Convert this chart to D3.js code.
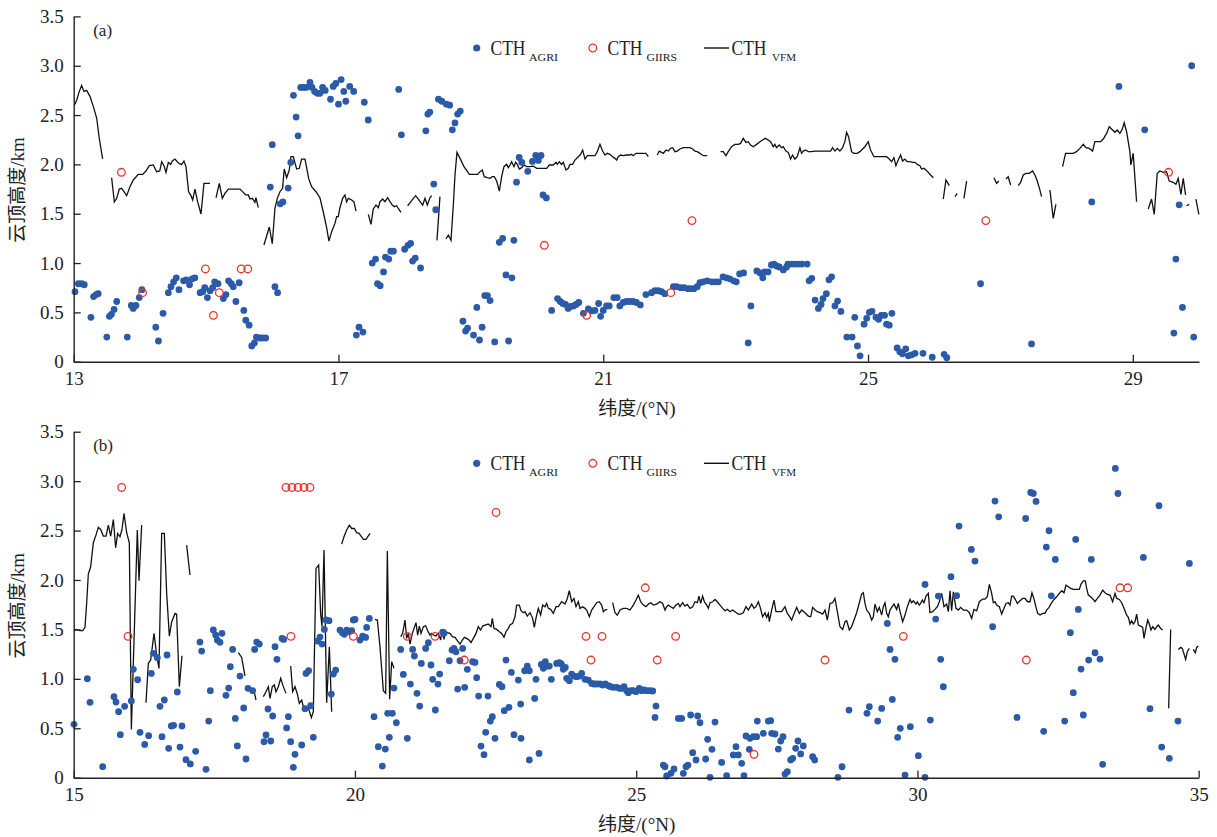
<!DOCTYPE html>
<html><head><meta charset="utf-8">
<script src="https://cdn.jsdelivr.net/npm/d3@7"></script>
<style>
body{margin:0;background:#fff}
svg{display:block}
text{font-family:"Liberation Serif","Times New Roman","Noto Sans CJK SC",serif;fill:#222}
</style>
</head><body>
<script>
// ---------------- DATA ----------------
const yTicks = [0, 0.5, 1.0, 1.5, 2.0, 2.5, 3.0, 3.5];
const xTicksA = [13, 17, 21, 25, 29];
const xTicksB = [15, 20, 25, 30, 35];
const xDomainA = [13, 30];
const xDomainB = [15, 35];
const legendNames = [["CTH","AGRI"],["CTH","GIIRS"],["CTH","VFM"]];

// panel (a): [latitude °N, CTH km]
const agriA = [[13.02,0.71],[13.07,0.79],[13.12,0.79],[13.16,0.78],[13.26,0.45],[13.30,0.66],[13.34,0.68],[13.37,0.69],[13.50,0.25],[13.54,0.46],[13.57,0.48],[13.61,0.53],[13.65,0.61],[13.81,0.25],[13.87,0.57],[13.90,0.54],[13.94,0.57],[13.99,0.65],[14.03,0.73],[14.24,0.35],[14.28,0.21],[14.35,0.49],[14.43,0.70],[14.47,0.76],[14.51,0.81],[14.55,0.85],[14.59,0.73],[14.66,0.82],[14.70,0.83],[14.75,0.78],[14.79,0.84],[14.83,0.85],[14.91,0.70],[14.95,0.71],[14.98,0.75],[15.02,0.65],[15.06,0.72],[15.10,0.75],[15.13,0.81],[15.18,0.79],[15.26,0.64],[15.30,0.68],[15.34,0.82],[15.38,0.79],[15.41,0.76],[15.45,0.61],[15.50,0.80],[15.57,0.52],[15.60,0.42],[15.65,0.37],[15.69,0.16],[15.73,0.19],[15.76,0.25],[15.81,0.24],[15.85,0.24],[15.90,0.24],[15.97,1.77],[16.00,2.20],[16.04,0.76],[16.08,0.70],[16.12,1.60],[16.16,1.62],[16.24,1.76],[16.28,2.02],[16.32,2.70],[16.36,2.48],[16.39,2.29],[16.43,2.78],[16.47,2.78],[16.51,2.78],[16.57,2.83],[16.60,2.78],[16.64,2.74],[16.68,2.72],[16.72,2.72],[16.76,2.78],[16.80,2.75],[16.88,2.66],[16.92,2.79],[16.96,2.82],[17.00,2.61],[17.04,2.86],[17.08,2.74],[17.11,2.64],[17.17,2.79],[17.23,2.74],[17.39,2.63],[17.45,2.45],[17.91,2.76],[17.95,2.30],[18.32,2.34],[18.35,2.51],[18.38,2.53],[18.51,2.66],[18.56,2.64],[18.63,2.61],[18.68,2.60],[18.72,2.35],[18.76,2.42],[18.80,2.51],[18.84,2.54],[18.44,1.80],[18.47,1.54],[17.27,0.27],[17.31,0.35],[17.37,0.30],[17.51,1.00],[17.56,1.04],[17.59,0.79],[17.63,0.77],[17.68,0.91],[17.71,1.06],[17.76,1.04],[17.79,1.12],[17.83,1.12],[18.00,1.14],[18.05,1.18],[18.09,1.20],[18.12,1.02],[18.16,1.05],[18.24,0.95],[18.88,0.41],[18.92,0.31],[18.95,0.34],[19.04,0.27],[19.09,0.55],[19.13,0.22],[19.17,0.35],[19.21,0.67],[19.25,0.67],[19.29,0.62],[19.36,0.20],[19.43,1.21],[19.48,1.25],[19.53,0.88],[19.57,0.21],[19.62,0.85],[19.65,1.23],[19.69,1.82],[19.73,2.07],[19.77,2.02],[19.86,1.93],[19.93,2.03],[19.98,2.09],[20.02,2.04],[20.06,2.09],[20.09,1.69],[20.14,1.66],[20.22,0.52],[20.31,0.64],[20.35,0.61],[20.39,0.59],[20.43,0.58],[20.47,0.54],[20.51,0.56],[20.55,0.565],[20.59,0.58],[20.63,0.60],[20.70,0.49],[20.775,0.535],[20.825,0.515],[20.875,0.52],[20.93,0.59],[20.96,0.46],[21.00,0.52],[21.05,0.565],[21.09,0.565],[21.16,0.65],[21.21,0.65],[21.25,0.565],[21.30,0.60],[21.35,0.61],[21.40,0.61],[21.45,0.61],[21.50,0.60],[21.56,0.575],[21.645,0.68],[21.73,0.70],[21.78,0.72],[21.83,0.72],[21.88,0.71],[21.93,0.69],[22.06,0.76],[22.11,0.76],[22.17,0.75],[22.22,0.75],[22.28,0.74],[22.32,0.74],[22.37,0.74],[22.42,0.76],[22.46,0.80],[22.51,0.81],[22.57,0.82],[22.64,0.81],[22.69,0.81],[22.74,0.81],[22.81,0.86],[22.86,0.85],[22.91,0.84],[22.97,0.82],[23.01,0.81],[23.06,0.89],[23.12,0.90],[23.23,0.565],[23.19,0.19],[23.32,0.92],[23.37,0.90],[23.41,0.85],[23.44,0.91],[23.49,0.91],[23.54,0.98],[23.58,0.99],[23.62,0.97],[23.66,0.96],[23.72,0.93],[23.77,0.96],[23.79,0.99],[23.85,0.99],[23.90,0.99],[23.95,0.99],[24.00,0.99],[24.08,0.99],[24.11,0.82],[24.15,0.845],[24.20,0.625],[24.25,0.54],[24.29,0.58],[24.32,0.64],[24.37,0.69],[24.41,0.83],[24.45,0.86],[24.50,0.565],[24.54,0.615],[24.59,0.51],[24.68,0.25],[24.76,0.25],[24.80,0.45],[24.84,0.16],[24.88,0.06],[24.94,0.38],[24.98,0.44],[25.02,0.50],[25.06,0.51],[25.12,0.45],[25.16,0.43],[25.20,0.47],[25.25,0.47],[25.28,0.38],[25.32,0.37],[25.36,0.49],[25.44,0.14],[25.48,0.10],[25.52,0.08],[25.57,0.13],[25.61,0.06],[25.66,0.07],[25.71,0.085],[25.83,0.085],[25.97,0.045],[26.15,0.075],[26.19,0.04],[26.70,0.79],[27.47,0.18],[28.38,1.62],[28.79,2.79],[29.18,2.35],[29.89,3.00],[29.70,1.59],[29.65,1.04],[29.75,0.55],[29.62,0.29],[29.92,0.25]];

const giirsA = [[13.72,1.92],[14.04,0.70],[14.99,0.94],[15.11,0.47],[15.20,0.70],[15.53,0.94],[15.63,0.94],[20.11,1.18],[20.75,0.47],[22.02,0.70],[22.34,1.43],[26.78,1.43],[29.54,1.92]];

// null = gap in the lidar (VFM) track
const vfmA = [[13.01,2.60],[13.045,2.65],[13.085,2.74],[13.12,2.80],[13.155,2.74],[13.195,2.75],[13.246,2.69],[13.297,2.585],[13.347,2.47],[13.387,2.26],[13.437,2.055],null,
[13.573,1.865],[13.614,1.62],[13.649,1.656],[13.689,1.75],[13.724,1.757],[13.76,1.723],[13.80,1.683],[13.85,1.774],[13.90,1.842],[13.976,1.899],[14.042,1.899],[14.092,1.933],[14.142,1.987],[14.203,1.994],[14.253,1.926],[14.30,1.933],[14.329,2.027],[14.364,1.987],[14.394,1.919],[14.43,2.02],[14.465,2.00],[14.49,2.034],[14.53,2.054],[14.565,2.027],[14.595,2.007],[14.63,2.00],[14.666,2.034],[14.696,1.977],[14.736,1.723],[14.772,1.683],[14.797,1.639],[14.832,1.75],[14.872,1.622],[14.923,1.497],[14.968,1.808],[15.008,1.808],[15.059,1.808],null,
[15.15,1.662],[15.20,1.808],[15.245,1.656],[15.285,1.706],[15.336,1.75],[15.411,1.75],[15.512,1.75],[15.562,1.716],[15.598,1.69],[15.638,1.69],[15.663,1.649],[15.698,1.656],[15.738,1.615],[15.753,1.662],[15.789,1.561],null,
[15.874,1.183],[15.955,1.365],[16.00,1.196],[16.04,1.554],[16.076,1.656],[16.116,1.723],[16.156,1.757],[16.18,1.953],[16.217,1.865],[16.257,1.943],[16.282,2.078],[16.317,2.078],[16.368,1.953],[16.408,1.96],[16.443,2.054],[16.494,2.054],[16.519,1.967],[16.549,1.858],[16.594,1.774],[16.66,1.723],[16.72,1.662],[16.77,1.52],[16.821,1.358],[16.856,1.223],[16.897,1.318],[16.947,1.402],[16.972,1.47],[16.997,1.47],[17.022,1.561],[17.063,1.656],[17.098,1.69],[17.124,1.62],[17.149,1.656],[17.199,1.639],[17.234,1.62],[17.265,1.527],null,
[17.451,1.494],[17.491,1.392],[17.526,1.548],[17.567,1.588],[17.602,1.561],[17.627,1.622],[17.667,1.649],[17.703,1.622],[17.743,1.662],[17.778,1.622],[17.813,1.588],[17.844,1.571],[17.879,1.581],[17.909,1.548],[17.944,1.514],null,
[18.045,1.581],[18.095,1.622],[18.131,1.656],[18.166,1.683],[18.206,1.649],[18.241,1.615],[18.272,1.588],[18.307,1.656],[18.342,1.588],[18.382,1.662],[18.408,1.683],null,
[18.488,1.23],[18.533,1.673],null,
[18.624,1.244],[18.659,1.284],[18.70,1.23],[18.735,1.588],[18.76,1.892],[18.79,2.122],[18.836,2.061],[18.896,1.977],[18.977,1.899],[19.037,1.899],[19.103,1.899],[19.138,1.926],[19.173,1.943],[19.203,1.875],[19.249,1.865],[19.289,1.858],[19.324,1.875],[19.354,1.875],[19.39,1.831],[19.43,1.73],[19.465,1.875],[19.50,1.977],[19.54,2.00],[19.566,1.967],[19.591,1.994],[19.616,2.027],[19.651,1.977],[19.676,2.021],[19.701,2.00],[19.732,1.953],[19.767,1.967],[19.802,1.994],[19.843,1.977],[19.893,1.977],[19.943,1.983],[19.994,1.96],[20.044,1.96],[20.094,1.96],[20.145,1.96],[20.185,1.994],[20.245,1.994],[20.286,2.021],[20.306,2.00],[20.336,2.027],[20.371,2.00],[20.396,2.021],[20.437,1.943],[20.472,1.96],[20.497,2.00],[20.537,2.00],[20.573,2.044],[20.623,2.078],[20.658,2.102],[20.689,2.145],[20.724,2.054],[20.759,2.088],[20.824,2.088],[20.875,2.088],[20.91,2.129],[20.95,2.203],[20.99,2.135],[21.026,2.095],[21.061,2.112],[21.101,2.102],[21.141,2.078],[21.177,2.061],[21.202,2.044],[21.227,2.078],[21.262,2.095],[21.302,2.088],[21.353,2.095],[21.403,2.095],[21.428,2.102],[21.453,2.088],[21.494,2.112],[21.529,2.112],[21.564,2.112],[21.604,2.112],[21.645,2.112],[21.68,2.078],null,
[21.816,2.095],[21.846,2.135],[21.881,2.122],[21.907,2.112],[21.947,2.146],[21.982,2.135],[22.017,2.162],[22.048,2.169],[22.083,2.129],[22.118,2.135],[22.158,2.156],[22.209,2.169],[22.259,2.169],[22.309,2.169],[22.35,2.156],[22.385,2.135],[22.42,2.129],[22.46,2.112],[22.511,2.088],[22.571,2.088],null,
[22.773,2.129],[22.813,2.129],[22.853,2.088],[22.888,2.129],[22.939,2.179],[22.989,2.203],[23.039,2.203],[23.075,2.213],[23.115,2.264],[23.155,2.223],[23.19,2.23],[23.226,2.196],[23.266,2.179],[23.316,2.203],[23.367,2.23],[23.407,2.247],[23.447,2.264],[23.493,2.247],[23.528,2.23],[23.568,2.179],[23.593,2.203],[23.618,2.169],[23.659,2.196],[23.694,2.169],[23.719,2.179],[23.759,2.135],[23.795,2.122],[23.83,2.054],[23.86,2.095],[23.895,2.054],[23.93,2.078],[23.971,2.169],[23.996,2.112],[24.021,2.135],[24.061,2.146],[24.097,2.129],[24.147,2.129],[24.197,2.135],[24.248,2.135],[24.298,2.135],[24.349,2.135],[24.399,2.135],[24.434,2.135],[24.464,2.169],[24.50,2.135],[24.535,2.162],[24.575,2.135],[24.615,2.169],[24.65,2.23],[24.676,2.325],[24.706,2.281],[24.726,2.213],[24.751,2.129],[24.787,2.112],[24.837,2.112],[24.877,2.129],[24.918,2.156],[24.953,2.179],[25.003,2.23],[25.038,2.146],[25.089,2.078],[25.139,2.078],[25.19,2.078],[25.24,2.078],[25.28,2.078],[25.32,2.054],[25.356,2.027],[25.391,2.068],[25.421,1.987],[25.456,2.044],[25.492,2.095],[25.522,2.034],[25.557,2.054],[25.592,2.027],[25.633,2.027],[25.673,2.021],[25.709,2.021],[25.744,2.00],[25.784,1.987],[25.809,1.953],[25.845,1.96],[25.875,1.943],[25.91,1.919],[25.945,1.892],[25.986,1.865],null,
[26.137,1.649],[26.177,1.842],[26.227,1.784],null,
[26.313,1.673],[26.348,1.706],null,
[26.449,1.656],[26.489,1.831],null,
[26.902,1.865],[26.942,1.808],[26.977,1.831],null,
[27.083,1.852],[27.118,1.875],[27.154,1.791],null,
[27.269,1.784],[27.305,1.818],[27.345,1.892],[27.385,1.909],[27.436,1.909],[27.486,1.933],[27.521,1.892],[27.546,1.852],[27.587,1.764],[27.622,1.673],null,
[27.748,1.74],[27.798,1.453],[27.838,1.595],null,
[27.939,1.977],[27.984,2.112],[28.04,2.112],[28.10,2.112],[28.15,2.129],[28.201,2.162],[28.251,2.203],[28.292,2.169],[28.342,2.162],[28.392,2.135],[28.427,2.23],[28.463,2.23],[28.513,2.23],[28.553,2.257],[28.604,2.314],[28.644,2.382],[28.679,2.358],[28.73,2.325],[28.765,2.348],[28.805,2.314],[28.84,2.355],[28.87,2.422],[28.906,2.331],[28.931,2.23],[28.956,2.129],[28.971,1.994],[29.006,2.112],[29.057,1.622],null,
[29.233,1.548],[29.283,1.649],[29.324,1.494],[29.369,1.909],[29.409,1.933],[29.46,1.919],[29.51,1.926],[29.55,1.831],[29.61,1.818],[29.651,1.798],[29.686,1.858],[29.727,1.696],[29.762,1.858],[29.797,1.69],null,
[29.812,1.581],[29.852,1.595],null,
[29.953,1.649],[29.998,1.494]];

// panel (b)
const agriB = [[15.005,0.54],[15.242,1.001],[15.29,0.762],[15.515,0.112],[15.716,0.819],[15.752,0.765],[15.799,0.668],[15.829,0.435],[15.906,0.722],[16.025,0.776],[16.06,1.096],[16.137,0.991],[16.179,0.459],[16.262,0.337],[16.333,0.425],[16.38,1.055],[16.416,1.258],[16.487,1.214],[16.534,0.722],[16.57,0.415],[16.611,0.786],[16.659,1.241],[16.688,0.297],[16.736,0.523],[16.777,0.53],[16.842,0.867],[16.89,0.31],[16.925,0.523],[16.996,0.182],[17.073,0.139],[17.168,0.267],[17.245,1.372],[17.275,1.281],[17.352,0.085],[17.4,0.573],[17.429,0.88],[17.482,1.494],[17.524,1.443],[17.553,1.392],[17.601,1.369],[17.636,1.46],[17.707,0.833],[17.755,0.907],[17.784,1.123],[17.826,1.298],[17.873,0.6],[17.909,0.321],[17.956,1.028],[18.022,0.705],[18.063,0.189],[18.099,0.904],[18.182,0.88],[18.217,1.298],[18.253,1.372],[18.30,1.352],[18.383,0.364],[18.419,0.432],[18.454,0.695],[18.502,0.371],[18.537,0.624],[18.579,1.325],[18.614,1.197],[18.703,1.409],[18.733,1.399],[18.786,0.503],[18.816,0.617],[18.857,0.364],[18.905,0.105],[18.934,0.236],[19.053,0.331],[19.112,0.698],[19.13,1.055],[19.177,1.082],[19.213,0.728],[19.26,0.408],[19.337,1.382],[19.379,1.423],[19.414,1.352],[19.456,1.5],[19.485,1.595],[19.539,1.588],[19.58,0.846],[19.616,1.048],[19.657,1.089],[19.734,1.493],[19.776,1.466],[19.811,1.45],[19.853,1.493],[19.9,1.477],[19.942,1.487],[20.001,1.601],[19.971,1.595],[20.09,1.392],[20.137,1.433],[20.19,1.419],[20.208,1.52],[20.256,1.611],[20.339,0.617],[20.416,0.314],[20.487,0.118],[20.54,0.29],[20.582,0.651],[20.665,0.651],[20.611,0.408],[20.694,0.907],[20.736,0.556],[20.813,1.298],[20.86,1.045],[20.931,0.398],[20.985,0.947],[21.026,1.298],[21.056,1.231],[21.103,0.853],[21.151,0.725],[21.18,1.156],[21.257,1.308],[21.305,1.365],[21.352,1.14],[21.382,0.995],[21.429,0.685],[21.476,0.947],[21.506,1.048],[21.559,1.473],[21.583,1.46],[21.678,1.183],[21.725,1.291],[21.761,1.308],[21.796,1.274],[21.826,0.897],[21.868,1.183],[21.915,1.308],[21.951,0.914],[21.998,1.096],[22.093,1.173],[22.134,1.166],[22.164,1.012],[22.199,0.826],[22.241,0.32],[22.294,0.233],[22.324,0.459],[22.365,0.826],[22.407,0.573],[22.442,0.617],[22.49,0.398],[22.567,0.944],[22.614,0.92],[22.655,0.678],[22.738,0.712],[22.685,1.19],[22.78,1.065],[22.827,0.435],[22.905,0.988],[22.946,0.745],[22.952,0.398],[23.017,1.082],[23.064,1.129],[23.1,1.082],[23.1,0.179],[23.195,0.802],[23.218,0.995],[23.272,0.246],[23.313,1.146],[23.349,1.106],[23.384,1.173],[23.42,1.129],[23.455,1.129],[23.491,0.995],[23.586,1.156],[23.633,1.163],[23.669,1.15],[23.704,1.096],[23.74,1.116],[23.764,1.005],[23.811,0.981],[23.852,1.048],[23.894,1.028],[23.941,1.022],[23.989,1.028],[24.03,1.055],[24.09,0.995],[24.149,0.988],[24.208,0.954],[24.25,0.948],[24.297,0.948],[24.356,0.948],[24.404,0.937],[24.451,0.948],[24.504,0.931],[24.546,0.92],[24.593,0.914],[24.653,0.914],[24.7,0.904],[24.741,0.904],[24.783,0.921],[24.83,0.88],[24.86,0.86],[24.907,0.88],[24.949,0.88],[24.996,0.87],[25.055,0.904],[25.097,0.88],[25.138,0.887],[25.186,0.88],[25.245,0.88],[25.293,0.877],[25.352,0.725],[25.334,0.61],[25.482,0.128],[25.512,0.111],[25.541,0.017],[25.618,0.044],[25.672,0.088],[25.749,0.6],[25.808,0.6],[25.838,0.044],[25.885,0.111],[25.921,0.128],[25.968,0.634],[26.004,0.253],[26.063,0.179],[26.093,0.624],[26.134,0.556],[26.235,0.189],[26.27,0.388],[26.312,0.004],[26.347,0.287],[26.401,0.563],[26.519,0.155],[26.608,0.021],[26.727,0.23],[26.815,0.23],[26.774,0.314],[26.875,0.145],[26.916,0.021],[26.952,0.422],[27.023,0.398],[27.082,0.415],[27.141,0.415],[27.011,0.287],[27.153,0.573],[27.26,0.449],[27.349,0.573],[27.39,0.577],[27.408,0.449],[27.467,0.442],[27.527,0.29],[27.568,0.371],[27.61,0.415],[27.645,0.037],[27.687,0.061],[27.746,0.179],[27.782,0.196],[27.835,0.297],[27.876,0.371],[27.924,0.24],[27.971,0.321],[28.137,0.213],[28.173,0.179],[28.587,0.004],[28.659,0.111],[28.783,0.684],[29.103,0.651],[29.145,0.718],[29.293,0.573],[29.364,0.701],[29.464,1.561],[29.512,1.298],[29.553,0.792],[29.6,1.197],[29.648,0.408],[29.695,0.499],[29.779,0.027],[29.873,0.516],[30.016,0.223],[30.134,1.955],[30.134,0.004],[30.229,0.583],[30.324,1.605],[30.371,1.837],[30.413,1.197],[30.46,0.92],[30.596,2.033],[30.697,1.841],[30.739,2.545],[30.958,2.309],[31.023,2.191],[31.337,1.527],[31.379,2.798],[31.444,2.639],[31.77,0.61],[31.924,2.622],[32.013,2.885],[32.06,2.875],[32.108,2.795],[32.244,0.469],[32.291,2.333],[32.339,2.498],[32.38,1.84],[32.451,2.208],[32.617,0.573],[32.718,1.467],[32.771,0.86],[32.813,2.41],[32.86,1.702],[32.908,1.099],[32.949,0.634],[33.044,1.19],[33.091,2.208],[33.157,1.264],[33.245,1.2],[33.293,0.135],[33.518,3.128],[33.565,2.875],[34.016,2.228],[34.134,0.698],[34.294,2.751],[34.342,0.31],[34.478,0.196],[34.632,0.573],[34.834,2.168]];

const giirsB = [[15.853,2.936],[15.965,1.43],[18.774,2.936],[18.88,2.936],[18.987,2.936],[19.094,2.936],[19.2,2.936],[18.862,1.43],[19.971,1.43],[20.931,1.43],[21.423,1.43],[21.944,1.19],[22.508,2.683],[24.107,1.43],[24.392,1.43],[24.196,1.19],[25.162,1.921],[25.375,1.19],[25.701,1.43],[27.094,0.236],[28.356,1.19],[29.749,1.43],[31.936,1.19],[33.601,1.921],[33.737,1.921]];

const vfmB = [[15.005,1.487],[15.053,1.50],[15.112,1.487],[15.159,1.487],[15.201,1.521],[15.231,1.77],[15.26,2.06],[15.302,2.134],[15.349,2.377],[15.396,2.454],[15.438,2.532],[15.479,2.511],[15.527,2.444],[15.574,2.444],[15.616,2.555],[15.657,2.444],[15.705,2.612],[15.746,2.326],[15.782,2.471],[15.823,2.437],[15.859,2.511],[15.894,2.673],[15.942,2.478],[15.989,2.377],[16.025,0.489],[16.131,2.505],[16.161,1.992],[16.208,2.555],null,
[16.285,0.759],[16.327,1.157],[16.368,1.19],[16.428,1.46],[16.475,1.241],[16.516,1.106],[16.564,2.471],[16.611,2.471],[16.653,1.864],[16.7,1.433],[16.742,1.578],[16.801,1.662],[16.83,1.655],[16.878,0.921],[16.925,1.234],null,
[17.008,2.353],[17.067,2.05],null,
[17.927,1.264],[17.986,1.217],[18.045,1.029],null,
[18.122,0.921],[18.164,0.87],[18.205,0.88],[18.241,0.786],null,
[18.371,0.82],[18.419,0.87],[18.46,0.921],[18.49,0.803],[18.531,0.921],[18.567,0.938],[18.596,0.87],[18.638,0.921],[18.68,1.005],[18.727,0.921],[18.774,0.853],null,
[18.857,1.13],[18.893,0.87],[18.934,0.921],[18.976,0.847],[19.011,0.752],[19.053,0.786],[19.094,0.691],[19.142,0.718],[19.183,0.685],[19.225,0.607],[19.26,0.668],[19.308,2.117],[19.355,2.151],[19.39,1.662],[19.414,1.527],[19.45,2.302],[19.497,0.759],[19.545,1.325],[19.586,0.668],null,
[19.764,2.363],[19.805,2.437],[19.853,2.505],[19.9,2.555],[19.942,2.521],[19.989,2.521],[20.03,2.478],[20.072,2.471],[20.108,2.444],[20.149,2.41],[20.196,2.41],[20.226,2.437],[20.268,2.471],null,
[20.356,1.601],[20.398,1.595],[20.445,1.325],[20.481,1.056],[20.505,0.88],[20.546,0.853],[20.576,2.292],[20.617,0.793],[20.653,1.174],[20.694,1.106],null,
[20.813,1.426],[20.848,1.46],[20.89,1.595],[20.919,1.409],[20.949,1.46],[20.979,1.352],[21.02,1.46],[21.056,1.521],[21.085,1.568],[21.115,1.443],[21.145,1.534],[21.174,1.46],[21.216,1.527],[21.257,1.537],[21.293,1.487],[21.334,1.443],[21.364,1.46],[21.394,1.443],[21.441,1.433],[21.482,1.46],[21.524,1.393],[21.548,1.487],[21.583,1.399],[21.607,1.487],[21.642,1.467],[21.69,1.46],[21.731,1.426],[21.779,1.42],[21.82,1.386],[21.868,1.352],[21.909,1.393],[21.945,1.42],[21.986,1.409],[22.028,1.393],[22.063,1.366],[22.105,1.409],[22.152,1.46],[22.193,1.527],[22.235,1.494],[22.271,1.534],[22.312,1.544],[22.371,1.554],[22.419,1.527],[22.442,1.612],[22.472,1.51],[22.52,1.50],[22.567,1.477],[22.608,1.46],[22.65,1.42],[22.685,1.477],[22.727,1.51],[22.756,1.544],[22.804,1.561],[22.845,1.628],[22.875,1.746],[22.922,1.746],[22.952,1.689],[22.993,1.669],[23.023,1.679],[23.064,1.635],[23.112,1.669],[23.159,1.612],[23.189,1.521],[23.218,1.612],[23.26,1.713],[23.301,1.645],[23.337,1.746],[23.378,1.73],[23.408,1.763],[23.438,1.713],[23.479,1.703],[23.527,1.662],[23.574,1.73],[23.615,1.73],[23.675,1.78],[23.734,1.756],[23.775,1.813],[23.811,1.891],[23.853,1.78],[23.894,1.813],[23.93,1.73],[23.971,1.78],[24.001,1.713],[24.048,1.73],[24.09,1.713],[24.119,1.696],[24.167,1.628],[24.208,1.696],[24.25,1.73],[24.297,1.77],[24.344,1.78],[24.386,1.746],[24.416,1.679],[24.445,1.696],[24.487,1.703],null,
[24.581,1.77],[24.623,1.669],[24.664,1.645],[24.712,1.696],[24.771,1.713],[24.83,1.713],[24.89,1.696],[24.949,1.746],[24.996,1.797],[25.038,1.847],[25.079,1.78],[25.127,1.746],[25.174,1.73],[25.216,1.756],[25.263,1.77],[25.304,1.746],[25.364,1.756],[25.423,1.78],[25.47,1.763],[25.512,1.696],[25.541,1.73],[25.571,1.746],[25.613,1.73],[25.66,1.713],[25.707,1.746],[25.749,1.763],[25.778,1.73],[25.826,1.77],[25.867,1.736],[25.909,1.753],[25.956,1.713],[26.004,1.73],[26.045,1.78],[26.087,1.77],[26.116,1.837],[26.146,1.763],[26.181,1.837],[26.211,1.78],[26.253,1.746],[26.282,1.713],[26.312,1.77],[26.359,1.78],[26.401,1.803],[26.442,1.78],[26.49,1.746],[26.537,1.713],[26.578,1.689],[26.62,1.703],[26.667,1.679],[26.715,1.696],[26.756,1.679],[26.815,1.655],[26.857,1.655],[26.904,1.669],[26.952,1.73],[26.993,1.696],[27.053,1.756],[27.094,1.713],[27.13,1.73],[27.171,1.78],[27.201,1.73],[27.248,1.628],[27.29,1.669],[27.319,1.622],[27.349,1.662],[27.367,1.578],[27.408,1.696],[27.45,1.797],[27.485,1.679],[27.527,1.679],[27.586,1.679],[27.645,1.73],[27.687,1.662],[27.722,1.635],[27.764,1.595],[27.805,1.655],[27.853,1.723],[27.9,1.662],[27.942,1.696],[28.001,1.669],[28.06,1.635],[28.102,1.628],[28.137,1.723],[28.179,1.696],[28.22,1.679],[28.267,1.669],[28.315,1.655],[28.356,1.696],[28.398,1.595],[28.445,1.763],[28.493,1.77],[28.534,1.813],[28.576,1.679],[28.623,1.527],[28.67,1.50],[28.712,1.578],[28.742,1.588],[28.789,1.494],[28.83,1.527],[28.872,1.595],[28.919,1.669],[28.967,1.77],[29.008,1.857],[29.038,1.871],[29.067,1.763],[29.097,1.696],[29.144,1.662],[29.186,1.595],[29.216,1.628],[29.245,1.756],[29.287,1.679],[29.322,1.723],[29.364,1.645],[29.393,1.73],[29.423,1.77],[29.453,1.662],[29.482,1.628],[29.512,1.696],[29.542,1.723],[29.583,1.756],[29.63,1.703],[29.66,1.763],[29.69,1.679],[29.737,1.578],[29.779,1.645],[29.82,1.73],[29.867,1.803],[29.897,1.77],[29.927,1.79],[29.974,1.756],[29.998,1.78],[30.033,1.746],[30.057,1.763],[30.087,1.797],[30.116,1.77],[30.152,1.837],[30.193,1.864],[30.223,1.669],[30.27,1.679],[30.312,1.703],[30.353,1.73],[30.389,1.78],[30.43,1.864],[30.472,1.73],[30.519,1.756],[30.549,1.679],[30.579,1.891],[30.608,1.689],[30.638,1.881],[30.685,1.713],[30.727,1.696],[30.768,1.723],[30.816,1.696],[30.875,1.696],[30.922,1.669],[30.964,1.612],[31.005,1.703],[31.053,1.689],[31.1,1.78],[31.159,1.807],[31.201,1.807],[31.242,1.83],[31.278,1.955],[31.319,1.864],[31.349,1.77],[31.379,1.78],[31.408,1.746],[31.456,1.73],[31.497,1.655],[31.539,1.713],[31.574,1.763],[31.616,1.77],[31.645,1.746],[31.675,1.837],[31.705,1.837],[31.746,1.797],[31.776,1.763],[31.823,1.79],[31.871,1.813],[31.912,1.813],[31.959,1.78],[32.001,1.78],[32.036,1.871],[32.078,1.797],[32.108,1.723],[32.137,1.662],[32.179,1.645],[32.226,1.662],[32.268,1.662],[32.297,1.696],[32.339,1.723],[32.386,1.77],[32.428,1.803],[32.475,1.83],[32.522,1.864],[32.564,1.891],[32.605,1.871],[32.641,1.948],[32.682,1.932],[32.724,1.915],[32.771,1.905],[32.831,1.905],[32.878,1.905],[32.908,1.958],[32.949,1.992],[32.985,1.992],[33.008,1.915],[33.038,1.847],[33.08,1.83],[33.127,1.803],[33.156,1.78],[33.198,1.813],[33.245,1.847],[33.293,1.898],[33.334,1.871],[33.376,1.854],[33.423,1.847],[33.47,1.78],[33.512,1.864],[33.542,1.813],[33.589,1.803],[33.63,1.77],[33.672,1.713],[33.719,1.645],[33.749,1.622],[33.779,1.554],[33.808,1.588],[33.838,1.554],[33.868,1.578],[33.897,1.655],[33.927,1.544],[33.968,1.534],[34.004,1.521],[34.028,1.409],[34.057,1.50],[34.093,1.595],[34.122,1.554],[34.152,1.494],[34.182,1.527],[34.223,1.50],[34.253,1.527],[34.282,1.544],[34.324,1.51],[34.359,1.494],null,
[34.466,0.702],[34.502,1.50],null,
[34.638,1.298],[34.68,1.318],[34.709,1.308],[34.768,1.197],[34.798,1.275],[34.833,1.308],null,
[34.905,1.298],[34.94,1.264],[34.964,1.318],[34.993,1.332]];

// ---------------- DRAWING ----------------
const W = 1217, H = 837;
const BLUE = "#2a5aa8", RED = "#e8342c", AXIS = "#222";
const svg = d3.select("body").append("svg").attr("width", W).attr("height", H);

const panels = [
  {tag:"(a)", agri:agriA, giirs:giirsA, vfm:vfmA, dom:xDomainA, ticks:xTicksA, L:73.7, R:1199, T:16.4, B:361.7},
  {tag:"(b)", agri:agriB, giirs:giirsB, vfm:vfmB, dom:xDomainB, ticks:xTicksB, L:73.7, R:1198.7, T:431.7, B:777.7}
];

panels.forEach(p => {
  const x = d3.scaleLinear().domain(p.dom).range([p.L, p.R]);
  const y = d3.scaleLinear().domain([0, 3.5]).range([p.B, p.T]);
  const g = svg.append("g");

  // VFM line
  const line = d3.line().defined(d => d !== null).x(d => x(d[0])).y(d => y(d[1]));
  g.append("path").datum(p.vfm).attr("d", line)
    .attr("fill", "none").attr("stroke", "#111").attr("stroke-width", 1.3)
    .attr("stroke-linejoin", "miter");

  // AGRI dots
  g.append("g").selectAll("circle").data(p.agri).join("circle")
    .attr("cx", d => x(d[0])).attr("cy", d => y(d[1])).attr("r", 3.4)
    .attr("fill", BLUE);

  // GIIRS circles
  g.append("g").selectAll("circle").data(p.giirs).join("circle")
    .attr("cx", d => x(d[0])).attr("cy", d => y(d[1])).attr("r", 3.8)
    .attr("fill", "none").attr("stroke", RED).attr("stroke-width", 1.3);

  // axes
  const yAxis = d3.axisLeft(y).tickValues(yTicks)
    .tickFormat(d => d === 0 ? "0" : d.toFixed(1))
    .tickSizeInner(-7).tickSizeOuter(0).tickPadding(10);
  const ya = g.append("g").attr("transform", `translate(${p.L},0)`).call(yAxis);

  const xAxis = d3.axisBottom(x).tickValues(p.ticks).tickFormat(d3.format("d"))
    .tickSizeInner(-7).tickSizeOuter(0).tickPadding(10);
  const xa = g.append("g").attr("transform", `translate(0,${p.B})`).call(xAxis);

  [ya, xa].forEach(a => {
    a.select(".domain").attr("stroke", AXIS).attr("stroke-width", 1.4);
    a.selectAll(".tick line").attr("stroke", AXIS).attr("stroke-width", 1.3);
    a.selectAll(".tick text").attr("fill", "#222")
      .style("font-family", '"Liberation Serif", serif').style("font-size", "19px");
  });

  // panel tag
  g.append("text").attr("x", p.L + 19.5).attr("y", p.T + 19.5)
    .style("font-size", "17px").text(p.tag);

  // axis titles
  g.append("text").attr("x", (p.L + p.R) / 2 + 0.5).attr("y", p.B + 53)
    .attr("text-anchor", "middle").style("font-size", "19px")
    .style("font-family", '"Liberation Serif","Noto Sans CJK SC",serif')
    .text("纬度/(°N)");
  g.append("text")
    .attr("transform", `translate(24,${(p.T + p.B) / 2 + 1}) rotate(-90)`)
    .attr("text-anchor", "middle").style("font-size", "19px")
    .style("font-family", '"Liberation Serif","Noto Sans CJK SC",serif')
    .text("云顶高度/km");

  // legend
  const ly = p.T + 31.6;
  const lg = g.append("g");
  lg.append("circle").attr("cx", 476.7).attr("cy", ly).attr("r", 3.6).attr("fill", BLUE);
  lg.append("circle").attr("cx", 592.8).attr("cy", ly).attr("r", 3.8)
    .attr("fill", "none").attr("stroke", RED).attr("stroke-width", 1.3);
  lg.append("line").attr("x1", 704).attr("x2", 729).attr("y1", ly).attr("y2", ly)
    .attr("stroke", "#111").attr("stroke-width", 1.4);
  // [CTH x, subscript x, subscript width]
  const pos = [[490.5, 529, 29], [607.5, 646.5, 30.5], [731.5, 772, 24]];
  legendNames.forEach((n, i) => {
    lg.append("text").attr("x", pos[i][0]).attr("y", ly + 6.9)
      .attr("textLength", 35).attr("lengthAdjust", "spacingAndGlyphs")
      .style("font-size", "21px").text(n[0]);
    lg.append("text").attr("x", pos[i][1]).attr("y", ly + 13)
      .attr("textLength", pos[i][2]).attr("lengthAdjust", "spacingAndGlyphs")
      .style("font-size", "10.5px").text(n[1]);
  });
});
</script>
</body></html>
